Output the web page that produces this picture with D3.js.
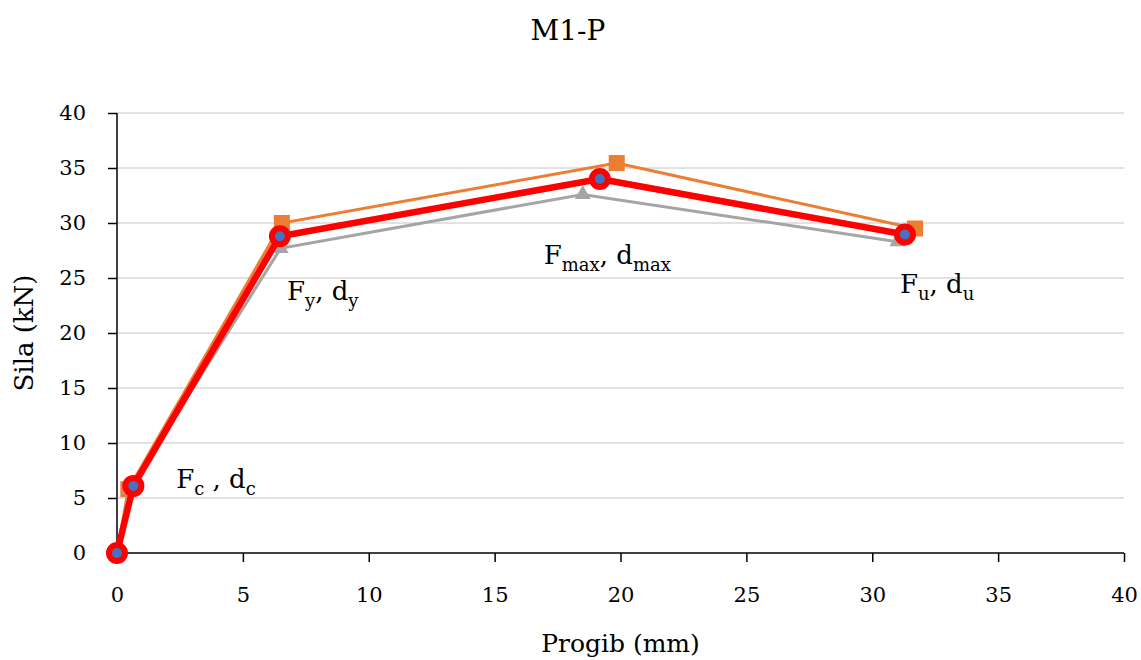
<!DOCTYPE html>
<html><head><meta charset="utf-8">
<script src="https://cdn.jsdelivr.net/npm/d3@7/dist/d3.min.js"></script>
<style>body{margin:0;background:#fff}text{font-family:"DejaVu Serif",serif;fill:#000}</style>
</head><body><svg id="c" width="1141" height="660"></svg>
<script>
const xTicks=[0,5,10,15,20,25,30,35,40];
const yTicks=[0,5,10,15,20,25,30,35,40];
const orangeX=[0,0.45,6.55,19.85,31.7];
const orangeY=[0,5.8,30.0,35.45,29.5];
const grayX=[0,0.5,6.5,18.5,31.0];
const grayY=[0,5.8,27.7,32.6,28.3];
const redX=[0,0.65,6.47,19.18,31.3];
const redY=[0,6.1,28.8,34.0,28.95];
const labels=[
 {x:2.35,y:5.9,main:"F",sub:"c",mid:" , d",sub2:"c"},
 {x:6.75,y:23.0,main:"F",sub:"y",mid:", d",sub2:"y"},
 {x:16.95,y:26.3,main:"F",sub:"max",mid:", d",sub2:"max"},
 {x:31.1,y:23.6,main:"F",sub:"u",mid:", d",sub2:"u"}
];
const svg=d3.select("#c");
const m={l:117,r:1124,t:113,b:553};
const x=d3.scaleLinear().domain([0,40]).range([m.l,m.r]);
const y=d3.scaleLinear().domain([0,40]).range([m.b,m.t]);
// grid
svg.append("g").selectAll("line").data(yTicks.filter(d=>d>0)).join("line")
 .attr("x1",m.l).attr("x2",m.r).attr("y1",d=>y(d)).attr("y2",d=>y(d))
 .attr("stroke","#d9d9d9").attr("stroke-width",1.3);
// axes
const ax=svg.append("g").attr("transform",`translate(0,${m.b})`)
 .call(d3.axisBottom(x).tickValues(xTicks).tickSize(9).tickPadding(25));
const ay=svg.append("g").attr("transform",`translate(${m.l},0)`)
 .call(d3.axisLeft(y).tickValues(yTicks).tickSize(9).tickPadding(22));
[ax,ay].forEach(g=>{g.selectAll("path,line").attr("stroke","#000").attr("stroke-width",1.5);
 g.select(".domain").attr("d",g===ax?`M${m.l},0H${m.r}`:`M0,${m.b}V${m.t}`);
 g.selectAll("text").style("font-family","DejaVu Serif").style("font-size","21px").attr("fill","#000");});
function ser(X,Y){return X.map((v,i)=>[v,Y[i]]);}
const line=d3.line().x(d=>x(d[0])).y(d=>y(d[1]));
const og=ser(orangeX,orangeY), gg=ser(grayX,grayY), rg=ser(redX,redY);
svg.append("path").attr("d",line(og)).attr("fill","none").attr("stroke","#ED7D31").attr("stroke-width",3);
svg.selectAll(".sq").data(og).join("rect").attr("x",d=>x(d[0])-8).attr("y",d=>y(d[1])-8)
 .attr("width",16).attr("height",16).attr("fill","#ED7D31");
svg.append("path").attr("d",line(gg)).attr("fill","none").attr("stroke","#A5A5A5").attr("stroke-width",3);
svg.selectAll(".tr").data(gg).join("path").attr("d",d3.symbol(d3.symbolTriangle,110))
 .attr("transform",d=>`translate(${x(d[0])},${y(d[1])})`).attr("fill","#A5A5A5");
svg.append("path").attr("d",line(rg)).attr("fill","none").attr("stroke","#FF0000").attr("stroke-width",6.5).attr("stroke-linejoin","round");
svg.selectAll(".ci").data(rg).join("circle").attr("cx",d=>x(d[0])).attr("cy",d=>y(d[1])).attr("r",8)
 .attr("fill","#4472C4").attr("stroke","#FF0000").attr("stroke-width",6);
// labels
labels.forEach(l=>{
 const t=svg.append("text").attr("x",x(l.x)).attr("y",y(l.y)).style("font-size","26px");
 t.append("tspan").text(l.main);
 t.append("tspan").text(l.sub).attr("dy",7).style("font-size","18px");
 t.append("tspan").text(l.mid).attr("dy",-7);
 t.append("tspan").text(l.sub2).attr("dy",7).style("font-size","18px");
});
svg.append("text").attr("x",568).attr("y",40).attr("text-anchor","middle").style("font-size","28px").text("M1-P");
svg.append("text").attr("x",m.l+(m.r-m.l)/2).attr("y",652).attr("text-anchor","middle").style("font-size","25px").text("Progib (mm)");
svg.append("text").attr("transform","translate(33,333) rotate(-90)").attr("text-anchor","middle").style("font-size","26px").text("Sila (kN)");
</script></body></html>
